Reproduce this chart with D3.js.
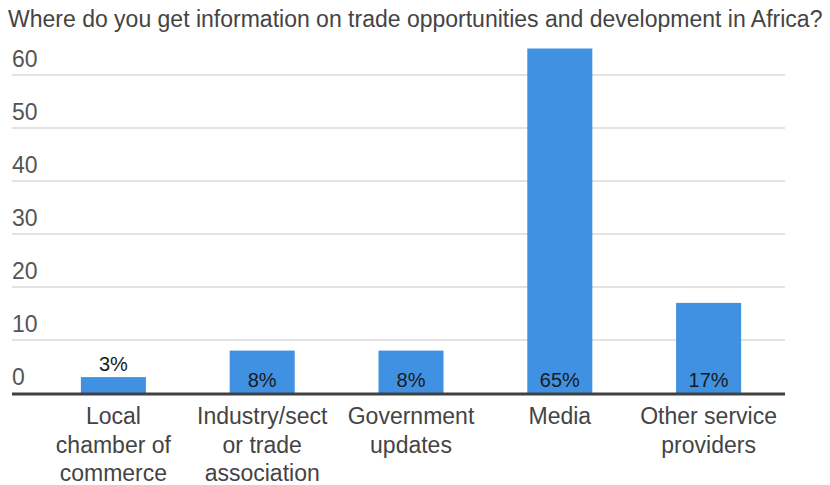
<!DOCTYPE html>
<html>
<head>
<meta charset="utf-8">
<script src="https://cdnjs.cloudflare.com/ajax/libs/d3/7.8.5/d3.min.js"></script>
<style>
  html, body { margin: 0; padding: 0; background: #fff; }
  svg { display: block; font-family: "Liberation Sans", Arial, sans-serif; }
</style>
</head>
<body>
<svg id="chart" width="830" height="485"></svg>
<script>
// Survey responses: where people get information on trade in Africa
const title = "Where do you get information on trade opportunities and development in Africa?";
const categories = [
  ["Local", "chamber of", "commerce"],
  ["Industry/sect", "or trade", "association"],
  ["Government", "updates"],
  ["Media"],
  ["Other service", "providers"]
];
const values = [3, 8, 8, 65, 17];
const valueLabels = ["3%", "8%", "8%", "65%", "17%"];
const yTicks = [0, 10, 20, 30, 40, 50, 60];

const svg = d3.select("#chart");
const plotLeft = 12, plotRight = 785, plotBase = 393, plotTop = 75;

const y = d3.scaleLinear().domain([0, 60]).range([plotBase, plotTop]);
const x = d3.scaleBand()
  .domain(d3.range(categories.length))
  .range([39, 783])
  .paddingInner(0.563)
  .paddingOuter(0.2815);

// Title
svg.append("text")
  .attr("x", 8).attr("y", 27)
  .attr("font-size", 23)
  .attr("fill", "#444")
  .text(title);

// Gridlines and tick labels
const grid = svg.append("g");
yTicks.filter(t => t > 0).forEach(t => {
  grid.append("line")
    .attr("x1", plotLeft).attr("x2", plotRight)
    .attr("y1", y(t)).attr("y2", y(t))
    .attr("stroke", "#d9d9d9").attr("stroke-width", 1.5);
});
yTicks.forEach(t => {
  grid.append("text")
    .attr("x", plotLeft).attr("y", y(t) - 8)
    .attr("font-size", 23)
    .attr("fill", "#555")
    .text(t);
});

// Bars
svg.append("g").selectAll("rect")
  .data(values)
  .join("rect")
  .attr("x", (d, i) => x(i))
  .attr("width", x.bandwidth())
  .attr("y", d => y(d))
  .attr("height", d => plotBase - y(d))
  .attr("fill", "#4191e3");

// Value labels: inside the bar when it fits, otherwise above
svg.append("g").selectAll("text")
  .data(values)
  .join("text")
  .attr("x", (d, i) => x(i) + x.bandwidth() / 2)
  .attr("y", d => (plotBase - y(d)) > 30 ? plotBase - 6 : y(d) - 6)
  .attr("text-anchor", "middle")
  .attr("font-size", 20)
  .attr("fill", "#1a1a1a")
  .text((d, i) => valueLabels[i]);

// Baseline
svg.append("line")
  .attr("x1", plotLeft).attr("x2", plotRight)
  .attr("y1", plotBase + 1).attr("y2", plotBase + 1)
  .attr("stroke", "#404040").attr("stroke-width", 3);

// Category labels
const cat = svg.append("g");
categories.forEach((lines, i) => {
  const t = cat.append("text")
    .attr("text-anchor", "middle")
    .attr("font-size", 23)
    .attr("fill", "#444");
  lines.forEach((ln, j) => {
    t.append("tspan")
      .attr("x", x(i) + x.bandwidth() / 2)
      .attr("y", 424 + j * 28.5)
      .text(ln);
  });
});
</script>
</body>
</html>
